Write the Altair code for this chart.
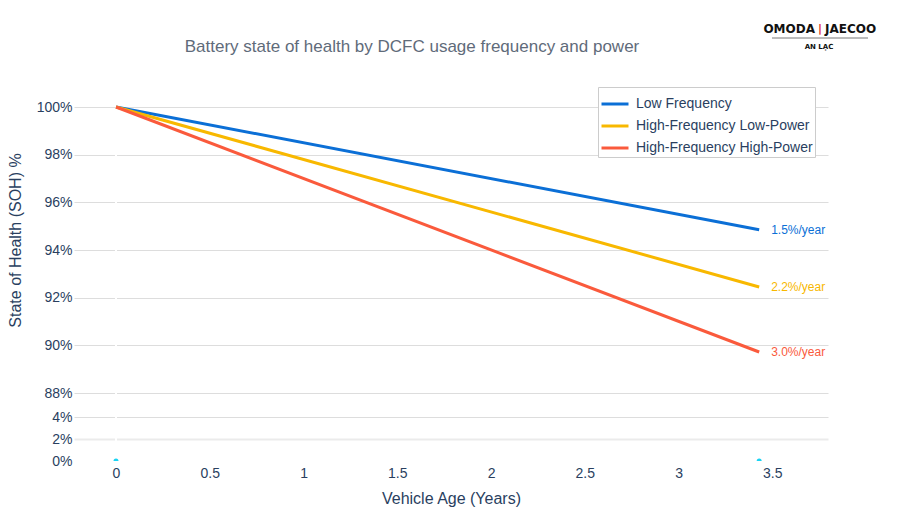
import altair as alt
import pandas as pd

# series
series = ["Low Frequency", "High-Frequency Low-Power", "High-Frequency High-Power"]
colors = ["#0B6FD6", "#F8B800", "#FA5A3C"]
start_year = [0, 0, 0]
end_year = [3.43, 3.43, 3.43]
start_soh = [100, 100, 100]
end_soh = [94.85, 92.45, 89.72]
rate_labels = ["1.5%/year", "2.2%/year", "3.0%/year"]

# small cyan markers sitting on the 0% baseline
marker_year = [0, 3.43]
marker_soh = [0, 0]

x_ticks = [0, 0.5, 1, 1.5, 2, 2.5, 3, 3.5]
y_ticks = [0, 2, 4, 88, 90, 92, 94, 96, 98, 100]

# broken y axis: 0-4% squeezed at the bottom, 88-100% above it
y_break_domain = [0, 4, 88, 100]
y_break_range = [381, 337, 313, 27]

title_text = "Battery state of health by DCFC usage frequency and power"

font = "Liberation Sans"
text_color = "#2a3f5f"
grid_color = "#dddddd"

rows = []
for s, x0, x1, y0, y1 in zip(series, start_year, end_year, start_soh, end_soh):
    rows.append({"Series": s, "Year": x0, "SOH": y0})
    rows.append({"Series": s, "Year": x1, "SOH": y1})
df = pd.DataFrame(rows)

ends = pd.DataFrame(
    {"Series": series, "Year": end_year, "SOH": end_soh, "Label": rate_labels}
)
markers = pd.DataFrame({"Year": marker_year, "SOH": marker_soh})
zero = pd.DataFrame({"Year": [x_ticks[0]]})

x_scale = alt.Scale(domain=[-0.224, 3.797], nice=False, zero=False)
y_scale = alt.Scale(domain=y_break_domain, range=y_break_range, nice=False, zero=False)
color_scale = alt.Scale(domain=series, range=colors)

x_axis = alt.Axis(
    values=x_ticks,
    format="~g",
    grid=False,
    ticks=False,
    tickSize=0,
    domain=False,
    labelPadding=5,
    labelFont=font,
    labelFontSize=14,
    labelColor=text_color,
    title="Vehicle Age (Years)",
    titleFont=font,
    titleFontSize=16,
    titleFontWeight="normal",
    titleColor=text_color,
    titlePadding=10,
)
y_axis = alt.Axis(
    values=y_ticks,
    labelExpr="datum.value + '%'",
    grid=True,
    gridColor={
        "condition": [
            {"test": "datum.value == 0", "value": "transparent"},
            {"test": "datum.value == 2", "value": "#ebebeb"},
        ],
        "value": grid_color,
    },
    gridWidth={"condition": {"test": "datum.value == 2", "value": 2}, "value": 1},
    ticks=False,
    tickSize=0,
    domain=False,
    labelPadding=2,
    labelFont=font,
    labelFontSize=14,
    labelColor=text_color,
    title="State of Health (SOH) %",
    titleFont=font,
    titleFontSize=16,
    titleFontWeight="normal",
    titleColor=text_color,
    titleX=-51,
    titleY=160,
    titleAlign="center",
    titleBaseline="bottom",
)

zero_line = (
    alt.Chart(zero)
    .mark_rule(color="white", strokeWidth=2)
    .encode(x=alt.X("Year:Q", scale=x_scale, axis=x_axis))
)

lines = (
    alt.Chart(df)
    .mark_line(strokeWidth=3)
    .encode(
        x=alt.X("Year:Q", scale=x_scale, axis=x_axis),
        y=alt.Y("SOH:Q", scale=y_scale, axis=y_axis),
        color=alt.Color(
            "Series:N",
            scale=color_scale,
            legend=alt.Legend(
                orient="none",
                legendX=524,
                legendY=7,
                title=None,
                symbolType="stroke",
                symbolSize=729,
                symbolStrokeWidth=3,
                labelFont=font,
                labelFontSize=14,
                labelColor=text_color,
                labelOffset=6,
                labelLimit=300,
                rowPadding=-5,
                padding=2,
                strokeColor="#cccccc",
                fillColor="white",
            ),
        ),
    )
)

rate_text = (
    alt.Chart(ends)
    .mark_text(align="left", baseline="middle", dx=12, font=font, fontSize=12)
    .encode(
        x=alt.X("Year:Q", scale=x_scale),
        y=alt.Y("SOH:Q", scale=y_scale),
        text="Label:N",
        color=alt.Color("Series:N", scale=color_scale, legend=None),
    )
)

dots = (
    alt.Chart(markers)
    .mark_point(filled=True, size=25, color="#19d3f3", opacity=1, clip=True)
    .encode(x=alt.X("Year:Q", scale=x_scale), y=alt.Y("SOH:Q", scale=y_scale))
)

# chart title drawn as a text mark so the corner logo does not push it around
title = alt.Chart(pd.DataFrame({"t": [title_text]})).mark_text(
    align="center", baseline="alphabetic", font=font, fontSize=17, color="#5f6b7a"
).encode(text="t:N", x=alt.value(338), y=alt.value(-28))

# brand mark in the top right corner
logo_main = alt.Chart(pd.DataFrame({"t": ["OMODA"]})).mark_text(
    align="right", baseline="middle", font="DejaVu Sans", fontSize=12,
    fontWeight="bold", color="#111111",
).encode(text="t:N", x=alt.value(741), y=alt.value(-51))
logo_bar = alt.Chart(pd.DataFrame({"t": ["|"]})).mark_text(
    align="center", baseline="middle", font="DejaVu Sans", fontSize=11,
    fontWeight="bold", color="#e0302a",
).encode(text="t:N", x=alt.value(746), y=alt.value(-51))
logo_side = alt.Chart(pd.DataFrame({"t": ["JAECOO"]})).mark_text(
    align="left", baseline="middle", font="DejaVu Sans", fontSize=12,
    fontWeight="bold", color="#111111",
).encode(text="t:N", x=alt.value(751), y=alt.value(-51))
logo_rule = alt.Chart(pd.DataFrame({"t": [1]})).mark_rule(
    color="#555555", strokeWidth=0.8
).encode(x=alt.value(698), x2=alt.value(794), y=alt.value(-42))
logo_sub = alt.Chart(pd.DataFrame({"t": ["AN LẠC"]})).mark_text(
    align="center", baseline="middle", font="DejaVu Sans", fontSize=7,
    fontWeight="bold", color="#111111",
).encode(text="t:N", x=alt.value(745), y=alt.value(-33))

chart = (
    alt.layer(
        zero_line, lines, rate_text, dots,
        title, logo_main, logo_bar, logo_side, logo_rule, logo_sub,
    )
    .properties(
        width=754,
        height=381,
        autosize=alt.AutoSizeParams(type="none"),
        padding={"left": 66, "top": 72, "right": 64, "bottom": 57},
    )
    .configure_view(strokeWidth=0)
)

chart.save("out.html", embed_options={"renderer": "svg", "actions": False})
